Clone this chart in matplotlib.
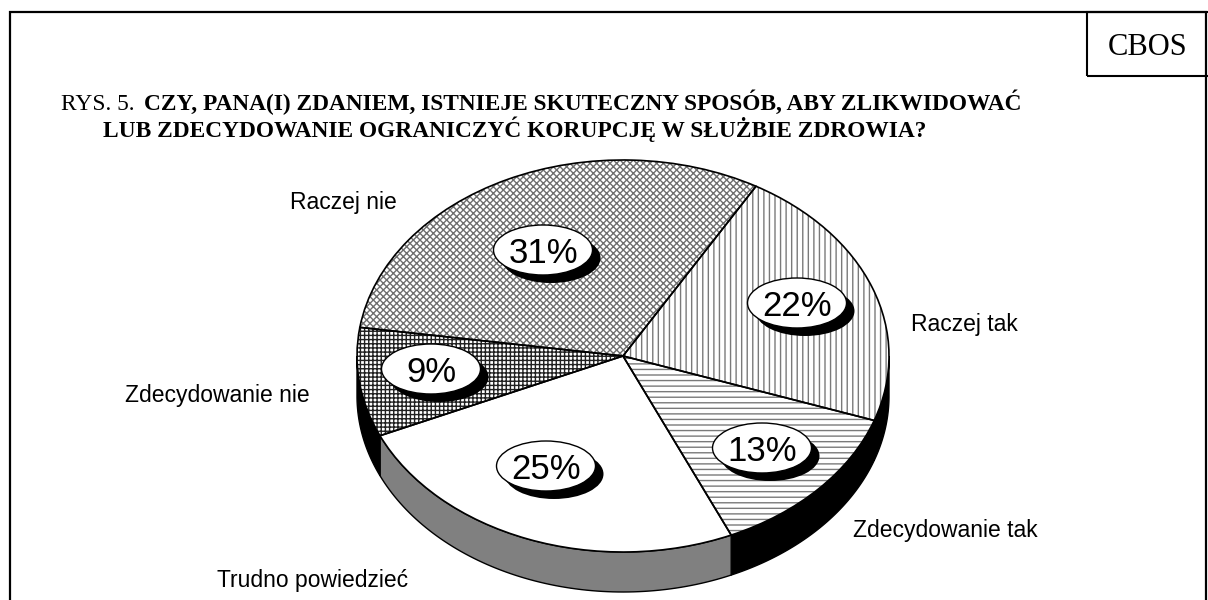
import numpy as np
import matplotlib.pyplot as plt
from matplotlib.patches import Ellipse, Polygon, Rectangle
from matplotlib.transforms import Affine2D

# data (clockwise from the top-right boundary)
categories = ['Raczej tak', 'Zdecydowanie tak', 'Trudno powiedzieć', 'Zdecydowanie nie', 'Raczej nie']
values = [22, 13, 25, 9, 31]
pct_labels = ['22%', '13%', '25%', '9%', '31%']

hatches = ['|||', '---', '', '++++', 'xxxxx']
hatch_colors = ['#7a7a7a', '#7a7a7a', '#7a7a7a', '#202020', '#6e6e6e']
side_colors = ['black', 'black', '#808080', 'black', 'black']

title_prefix = 'RYS. 5.'
title_1 = 'CZY, PANA(I) ZDANIEM, ISTNIEJE SKUTECZNY SPOSÓB, ABY ZLIKWIDOWAĆ'
title_2 = 'LUB ZDECYDOWANIE OGRANICZYĆ KORUPCJĘ W SŁUŻBIE ZDROWIA?'

W, H = 1208, 600
cx, cy = 623, H - 356
a, b, depth = 266, 196, 40
start = 60

# bubble + category label positions (image pixel coords)
bubble_xy = [(797, 303), (762, 448), (546, 466), (431, 369), (543, 250)]
label_xy = [(911, 322), (853, 528), (217, 578), (125, 393), (290, 200)]

plt.rcParams['hatch.linewidth'] = 1.0
fig = plt.figure(figsize=(12.08, 6), dpi=100)
ax = fig.add_axes([0, 0, 1, 1])

wedges, _ = ax.pie(values, startangle=start, counterclock=False, center=(cx, cy), radius=a,
                   wedgeprops=dict(facecolor='white', linewidth=0))
squash = Affine2D().translate(-cx, -cy).scale(1, b / a).translate(cx, cy) + ax.transData
for w, h, hc in zip(wedges, hatches, hatch_colors):
    w.set_transform(squash)
    w.set_hatch(h)
    w.set_edgecolor(hc)
    w.set_zorder(2)

outl, _ = ax.pie(values, startangle=start, counterclock=False, center=(cx, cy), radius=a,
                 wedgeprops=dict(fill=False, edgecolor='black', linewidth=1.2))
for w in outl:
    w.set_transform(squash)
    w.set_zorder(3)

# side wall of the front half
fracs = np.array(values) / sum(values)
bounds = start - np.concatenate([[0], np.cumsum(fracs)]) * 360
for i in range(len(values)):
    t1, t2 = bounds[i], bounds[i + 1]
    for k in (0, -360):
        hi = min(t1, k)
        lo = max(t2, k - 180)
        if hi > lo:
            t = np.radians(np.linspace(lo, hi, 80))
            x = cx + a * np.cos(t)
            ytop = cy + b * np.sin(t)
            ybot = ytop - depth
            pts = np.column_stack([np.r_[x, x[::-1]], np.r_[ytop, ybot[::-1]]])
            ax.add_patch(Polygon(pts, closed=True, facecolor=side_colors[i],
                                 edgecolor='black', lw=1, zorder=1))

# percentage bubbles
for (bx, by), lab in zip(bubble_xy, pct_labels):
    ax.add_patch(Ellipse((bx + 8, H - by - 8), 99, 50, facecolor='black', zorder=4))
    ax.add_patch(Ellipse((bx, H - by), 99, 50, facecolor='white', edgecolor='black', lw=1, zorder=5))
    ax.text(bx, H - by, lab, ha='center', va='center_baseline', fontsize=25,
            family='Liberation Sans', zorder=6)

for (lx, ly), cat in zip(label_xy, categories):
    ax.text(lx, H - ly, cat, ha='left', va='center_baseline', fontsize=16.5,
            family='Liberation Sans')

ax.set_xlim(0, W)
ax.set_ylim(0, H)
ax.set_aspect('auto')
ax.axis('off')

# title: line 1 ends at x=1021, line 2 centred a bit left of it
tfs = 16.8
renderer = fig.canvas.get_renderer()
t_pre = ax.text(0, H - 110.5, title_prefix, fontsize=tfs, family='Liberation Serif', va='baseline')
t_one = ax.text(0, H - 110.5, title_1, fontsize=tfs, family='Liberation Serif', weight='bold',
                va='baseline')
w_pre = t_pre.get_window_extent(renderer).width
w_one = t_one.get_window_extent(renderer).width
t_one.set_x(1021 - w_one)
t_pre.set_x(1021 - w_one - 9 - w_pre)
ax.text(515, H - 137.5, title_2, fontsize=tfs, family='Liberation Serif', weight='bold',
        va='baseline', ha='center')

# frames
ax.add_patch(Rectangle((10, -50), 1196, H - 12 + 50, fill=False, edgecolor='black', lw=1.6, zorder=7))
ax.add_patch(Rectangle((1087, H - 76), 200, 64, fill=False, edgecolor='black', lw=1.5, zorder=7))
ax.text(1148, H - 44, 'CBOS', fontsize=22, family='Liberation Serif', ha='center', va='center_baseline')

fig.savefig('out.png', dpi=100)
